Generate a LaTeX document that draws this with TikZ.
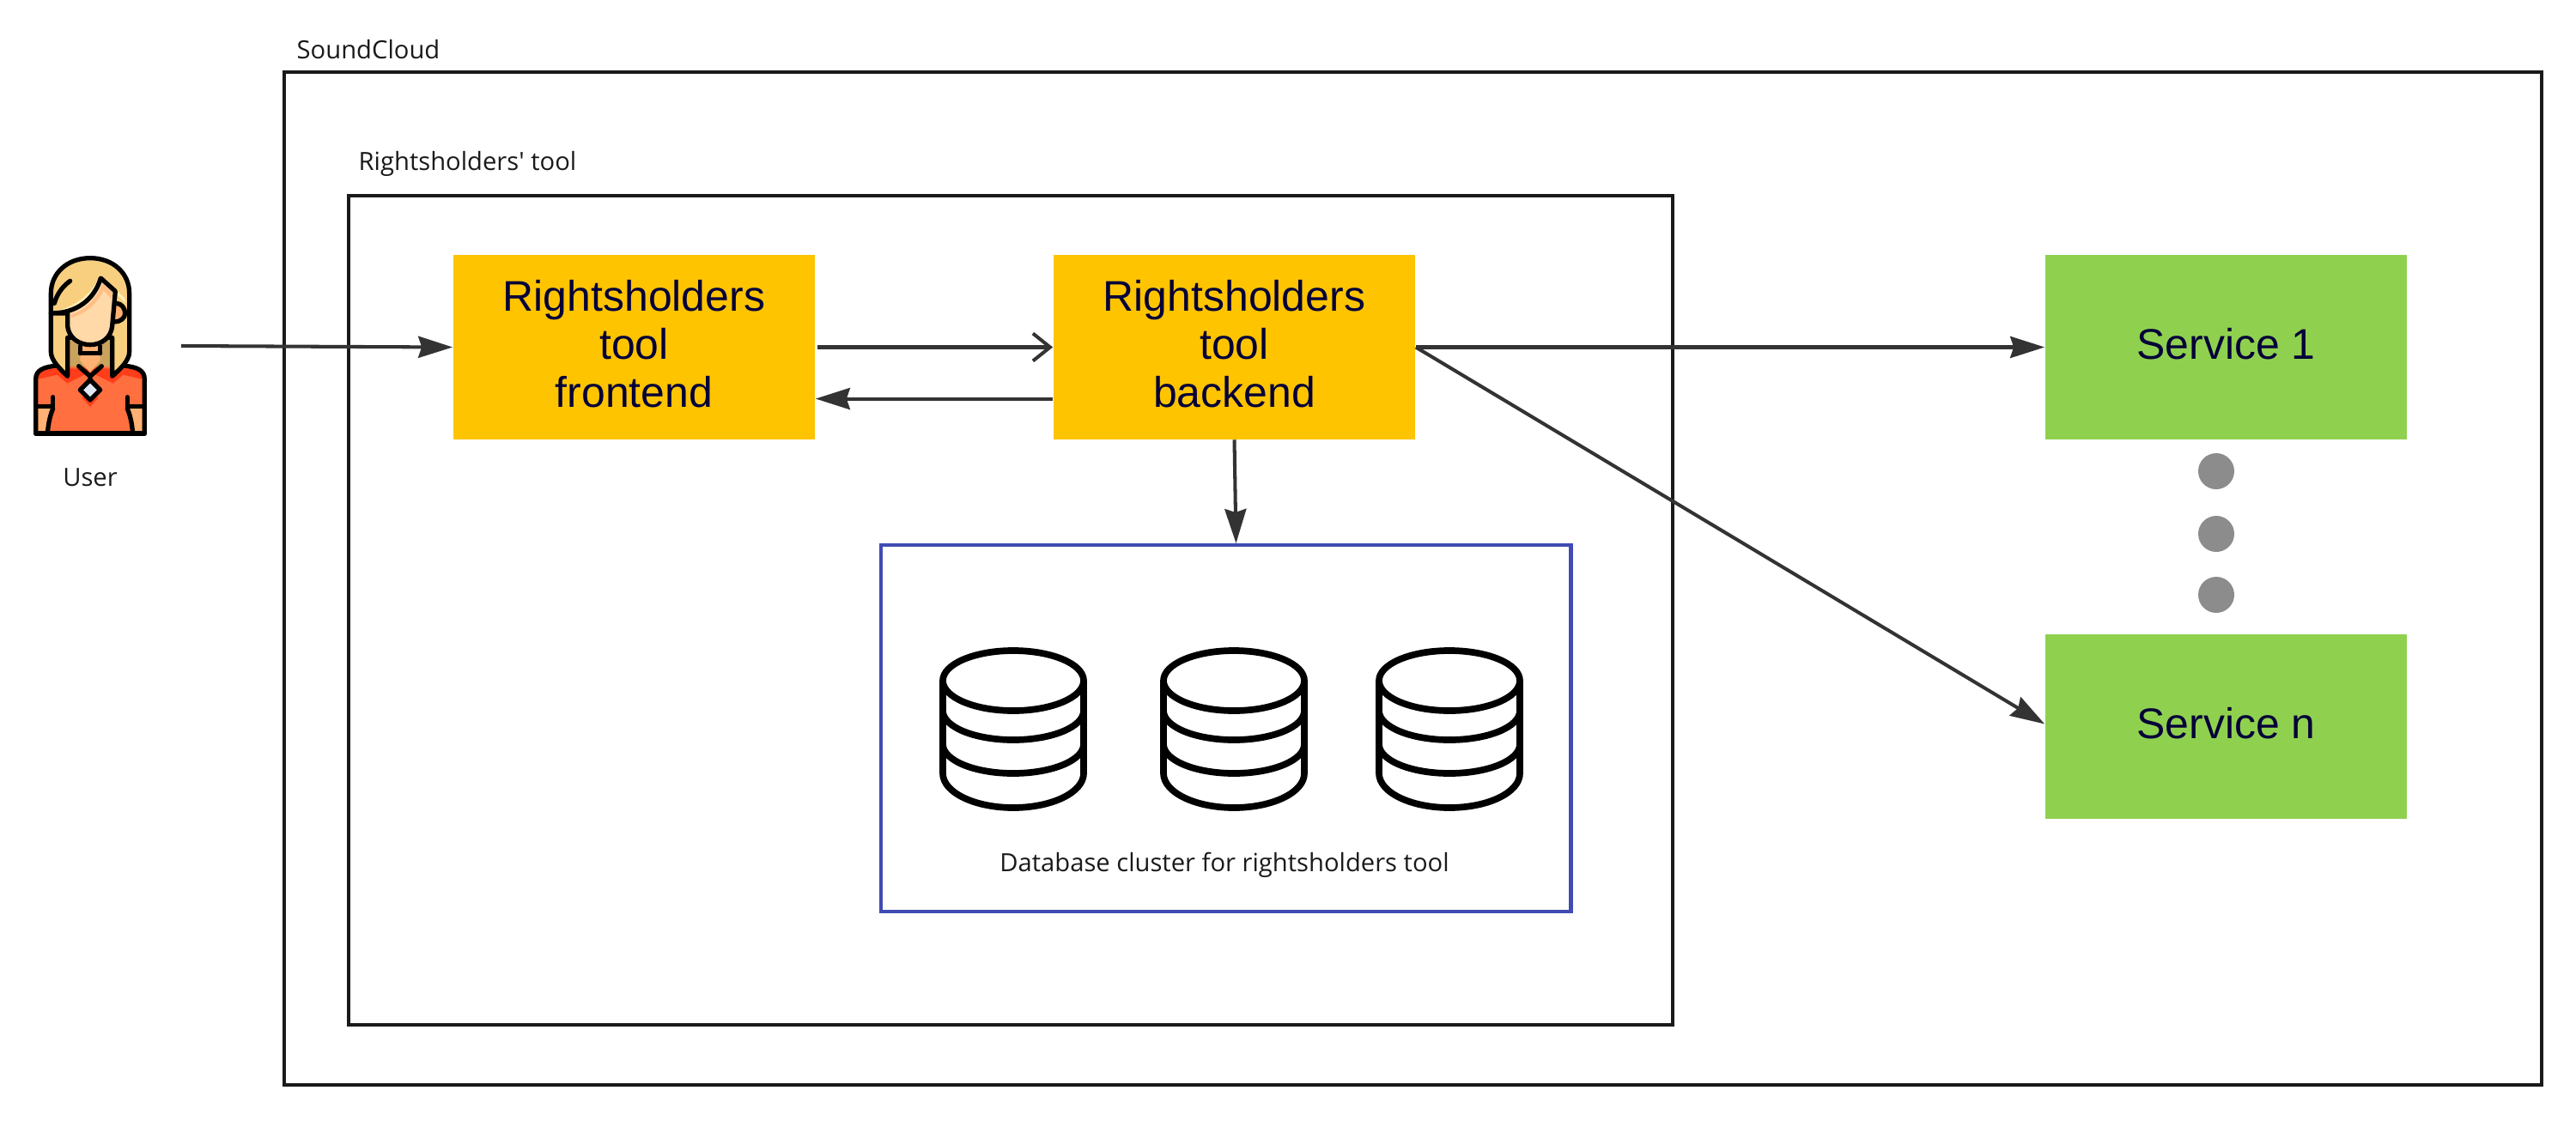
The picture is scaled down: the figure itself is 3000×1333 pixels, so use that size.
\documentclass[tikz,border=0pt]{standalone}
\usepackage{fontspec}
\setmainfont{Open Sans}
\newfontfamily\boxfont{Liberation Sans}
\usepackage{tikz}
\usetikzlibrary{arrows.meta}
\definecolor{framegrey}{HTML}{1A1A1A}
\definecolor{linkgrey}{HTML}{333333}
\definecolor{toolyellow}{HTML}{FEC400}
\definecolor{servicegreen}{HTML}{8FD14F}
\definecolor{dbblue}{HTML}{414BB2}
\definecolor{dotgrey}{HTML}{8C8C8C}
\definecolor{boxink}{HTML}{050038}
\definecolor{hairlight}{HTML}{F8CF7F}
\definecolor{hairpale}{HTML}{FFF0B8}
\definecolor{hairdark}{HTML}{C9A25C}
\definecolor{skinlight}{HTML}{FFD9A8}
\definecolor{skindark}{HTML}{FFB274}
\definecolor{shirtorange}{HTML}{FF6F3F}
\definecolor{shirtred}{HTML}{FF3D1A}
\definecolor{gemblue}{HTML}{DFE8F5}
\tikzset{
	frame/.style={draw=framegrey, line width=1.2pt, fill=none, inner sep=0pt, anchor=north west},
	toolbox/.style={fill=toolyellow, text=boxink, minimum width=4.21cm, minimum height=2.14cm, inner sep=0pt, align=center,
		text depth=2.3pt, font=\boxfont\fontsize{14.2}{16}\selectfont},
	servicebox/.style={toolbox, fill=servicegreen},
	dotnode/.style={circle, fill=dotgrey, minimum size=.42cm, inner sep=0pt},
	caption/.style={text=framegrey, inner sep=0pt, font=\fontsize{8.3}{10}\selectfont},
	link/.style={color=linkgrey, line width=1.15pt, -{Stealth[length=.4cm,width=.25cm,inset=.04cm]}},
	openlink/.style={color=linkgrey, line width=1.15pt, -{Straight Barb[length=.2cm,width=.32cm,line width=1.15pt]}},
	dbline/.style={draw=black, line width=2.2pt},
	icon/.style={draw=black, line width=1.5pt, line join=round, line cap=round},
}
\newcommand{\dbstack}[1]{
	\begin{scope}[shift={(#1,0)}]
		\draw[dbline] (-82,793) -- (-82,901) arc[start angle=180,end angle=0,x radius=82,y radius=40] -- (82,793);
		\draw[dbline] (0,793) ellipse[x radius=82,y radius=35];
		\draw[dbline] (-82,828) arc[start angle=180,end angle=0,x radius=82,y radius=34];
		\draw[dbline] (-82,867) arc[start angle=180,end angle=0,x radius=82,y radius=34];
	\end{scope}
}

\begin{document}
\begin{tikzpicture}[x=.01cm,y=-.01cm]
	\useasboundingbox (0,0) rectangle (3000,1333);

	% frames
	\node (soundcloud) [frame, minimum width=26.27cm, minimum height=11.79cm] at (329,82) {};
	\node (rightstool) [frame, minimum width=15.41cm, minimum height=9.65cm] at (404,226) {};
	\node (dbcluster) [frame, draw=dbblue, minimum width=8.03cm, minimum height=4.27cm] at (1024,633) {};
	\node (soundlabel) [caption, anchor=base west] at (345,68) {SoundCloud};
	\node (toollabel) [caption, anchor=base west] at (417,198) {Rightsholders\textquotesingle{} tool};
	\node (dblabel) [caption] at (1426,1008) {Database cluster for rightsholders tool};

	% boxes
	\node (frontend) [toolbox] at (738.5,404.5) {Rightsholders\\tool\\frontend};
	\node (backend) [toolbox] at (1437.5,404.5) {Rightsholders\\tool\\backend};
	\node (service1) [servicebox] at (2592.5,404.5) {Service 1};
	\node (servicen) [servicebox] at (2592.5,846.5) {Service n};
	\node (dot1) [dotnode] at (2581,549) {};
	\node (dot2) [dotnode] at (2581,622) {};
	\node (dot3) [dotnode] at (2581,693) {};

	% databases
	\dbstack{1180}
	\dbstack{1437}
	\dbstack{1688}

	% user
	\begin{scope}[shift={(0,270)},x=.01cm/3,y=-.01cm/3]
		\path[fill=shirtorange] (125,705) -- (125,515) .. controls (125,485) and (150,470) .. (180,470) -- (450,470) .. controls (480,470) and (505,485) .. (505,515) -- (505,705) -- cycle;
		\path[fill=shirtred] (133,515) .. controls (133,490) and (155,478) .. (180,478) -- (450,478) .. controls (475,478) and (497,490) .. (497,515) -- (430,500) -- (395,530) -- (315,490) -- (235,530) -- (200,500) -- cycle;
		\path[fill=shirtred] (285,578) -- (315,612) -- (345,578) -- cycle;
		\path[fill=skindark] (133,618) -- (178,618) -- (162,698) -- (133,698) -- cycle;
		\path[fill=skindark] (497,618) -- (452,618) -- (468,698) -- (497,698) -- cycle;
		\path[fill=hairdark] (238,370) rectangle (392,472);
		\path[fill=skindark] (280,395) -- (280,450) -- (315,492) -- (350,450) -- (350,395) -- cycle;
		\draw[icon] (125,705) -- (125,515) .. controls (125,485) and (150,472) .. (200,468);
		\draw[icon] (505,705) -- (505,515) .. controls (505,485) and (480,472) .. (430,468);
		\draw[icon] (125,705) -- (505,705);
		\draw[icon] (135,610) -- (185,610) -- (185,578);
		\draw[icon] (185,618) .. controls (172,650) and (168,680) .. (166,705);
		\draw[icon] (495,610) -- (445,610) -- (445,578);
		\draw[icon] (445,618) .. controls (458,650) and (462,680) .. (464,705);
		\draw[icon] (275,470) -- (315,505) -- (355,470) (315,505) -- (315,522);
		\draw[icon] (280,425) -- (350,425) (280,400) -- (280,425) (350,400) -- (350,425);
		\draw[icon, fill=hairlight] (178,215) .. controls (178,145) and (235,92) .. (315,92) .. controls (395,92) and (452,145) .. (452,215) -- (452,420) .. controls (452,450) and (420,480) .. (392,505) -- (392,370) -- (236,370) -- (236,505) .. controls (210,480) and (178,450) .. (178,420) -- cycle;
		\path[fill=hairpale] (192,278) .. controls (270,272) and (325,225) .. (350,168) -- (365,178) -- (440,250) -- (435,232) -- (372,170) -- (350,150) .. controls (325,215) and (265,262) .. (192,278) -- cycle;
		\draw[icon, fill=skindark] (405,250) .. controls (425,250) and (437,268) .. (437,285) .. controls (437,302) and (420,315) .. (400,315);
		\draw[icon, fill=skinlight] (178,285) .. controls (270,285) and (330,235) .. (352,162) -- (403,208) -- (392,330) .. controls (388,370) and (355,395) .. (315,395) .. controls (275,395) and (240,370) .. (236,330) -- (236,285) -- cycle;
		\path[fill=skindark!70!skinlight] (248,290) .. controls (300,275) and (345,225) .. (358,180) -- (392,212) -- (390,235) -- (362,205) .. controls (340,250) and (295,290) .. (248,300) -- cycle;
		\draw[icon] (190,250) .. controls (200,215) and (220,190) .. (245,172);
		\draw[icon, fill=gemblue] (315,518) -- (350,553) -- (315,588) -- (280,553) -- cycle;
	\end{scope}
	\node (userlabel) [caption] at (105,556) {User};
	\coordinate (userout) at (211,403);

	% links
	\path[link]
	(userout) edge (frontend.west)
	([yshift=-.6cm]backend.west) edge ([yshift=-.6cm]frontend.east)
	(backend.south) edge ([xshift=.02cm]backend.south |- dbcluster.north)
	(backend.east) edge (service1.west)
	(backend.east) edge ([yshift=.03cm]servicen.west);
	\path[openlink]
	([xshift=.02cm]frontend.east) edge (backend.west);
\end{tikzpicture}
\end{document}
